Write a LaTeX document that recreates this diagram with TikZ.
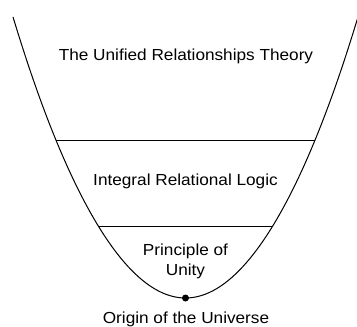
\documentclass[tikz,border=0pt]{standalone}
\usepackage{fontspec}
\setmainfont[FakeStretch=1.075]{Liberation Sans}
\begin{document}
\begin{tikzpicture}[x=1pt,y=-1pt,
  curve/.style={line width=1pt},
  lbl/.style={font=\fontsize{16}{20}\selectfont, inner sep=0pt, anchor=base},
  dotnode/.style={circle, fill=black, inner sep=0pt, minimum size=7pt}]
\useasboundingbox (0,0) rectangle (357,327);
\begin{scope}
\clip (0,0) rectangle (357,327);
\coordinate (tl) at (13,17);
\coordinate (tr) at (358,17);
\node[dotnode] (o) at (185.5,298) {};
\draw[curve] (tl) parabola bend (o.center) (tr);
\coordinate (a1) at (56.1,140);
\coordinate (a2) at (314.9,140);
\coordinate (b1) at (98.2,226);
\coordinate (b2) at (272.8,226);
\draw[curve] (a1) -- (a2);
\draw[curve] (b1) -- (b2);
\end{scope}
\node[lbl] (t1) at (186,60.7) {The Unified Relationships Theory};
\node[lbl] (t2) at (185.5,185) {Integral Relational Logic};
\node[lbl] (t3a) at (185.5,255) {Principle of};
\node[lbl] (t3b) at (185.5,275) {Unity};
\node[lbl] (t4) at (186,323.3) {Origin of the Universe};
\end{tikzpicture}
\end{document}
